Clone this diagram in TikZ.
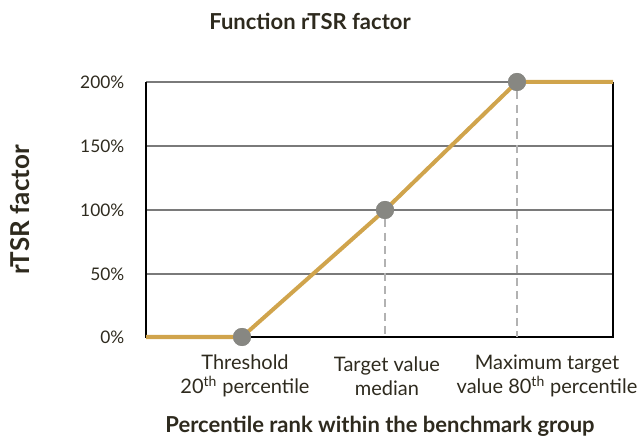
\documentclass[tikz,border=0pt]{standalone}
\usepackage{fontspec}
\setmainfont{Lato}
\definecolor{inkbrown}{HTML}{2E2A1E}
\definecolor{goldline}{HTML}{D0A44C}
\definecolor{dotgrey}{HTML}{878782}
\definecolor{gridgrey}{HTML}{7A7A7A}
\tikzset{pt_style/.style={circle, fill=dotgrey, minimum size=13.5pt, inner sep=0pt}}
\tikzset{tick_style/.style={anchor=east, text=inkbrown, font=\fontsize{13}{15}\selectfont}}
\tikzset{cat_style/.style={align=center, text=inkbrown, font=\fontsize{15}{18}\selectfont}}

\begin{document}
\begin{tikzpicture}[x=0.75pt, y=-0.75pt]
    \useasboundingbox (0,0) rectangle (639,438);

    % grid
    \foreach \yy in {82,146,210,274}
        \draw[gridgrey, line width=1.1pt] (146,\yy) -- (613,\yy);
    \draw[black, line width=1.1pt] (146,82) -- (146,337) -- (613,337) -- (613,82);

    % tick labels
    \node[tick_style] (t200) at (129,82) {200\%};
    \node[tick_style] (t150) at (129,146) {150\%};
    \node[tick_style] (t100) at (129,210) {100\%};
    \node[tick_style] (t50) at (129,274) {50\%};
    \node[tick_style] (t0) at (129,337) {0\%};

    % curve
    \coordinate (start) at (146,337);
    \coordinate (end) at (613,82);
    \coordinate (mfoot) at (385,337);
    \coordinate (xfoot) at (517,337);
    \node[pt_style] (thr) at (242,337) {};
    \node[pt_style] (med) at (385,210) {};
    \node[pt_style] (max) at (517,82) {};

    \draw[gray!60, line width=1pt, dash pattern=on 6pt off 4pt] (med) -- (mfoot);
    \draw[gray!60, line width=1pt, dash pattern=on 6pt off 4pt] (max) -- (xfoot);

    \draw[goldline, line width=3pt] (start) -- (thr.center) -- (med.center) -- (max.center) -- (end);
    \node[pt_style] at (thr) {};
    \node[pt_style] at (med) {};
    \node[pt_style] at (max) {};

    % labels
    \node[cat_style] (lthr) at (245,376) {Threshold\\20\textsuperscript{th} percentile};
    \node[cat_style] (lmed) at (387,376) {Target value\\median};
    \node[cat_style] (lmax) at (547,376) {Maximum target\\value 80\textsuperscript{th} percentile};

    \node[text=inkbrown, font=\bfseries\fontsize{16.5}{20}\selectfont] (title) at (310,21) {Function rTSR factor};
    \node[text=inkbrown, font=\bfseries\fontsize{16.5}{20}\selectfont] (xlab) at (380,426) {Percentile rank within the benchmark group};
    \node[text=inkbrown, font=\bfseries\fontsize{19.5}{22}\selectfont, rotate=90] (ylab) at (20,210) {rTSR factor};
\end{tikzpicture}
\end{document}
